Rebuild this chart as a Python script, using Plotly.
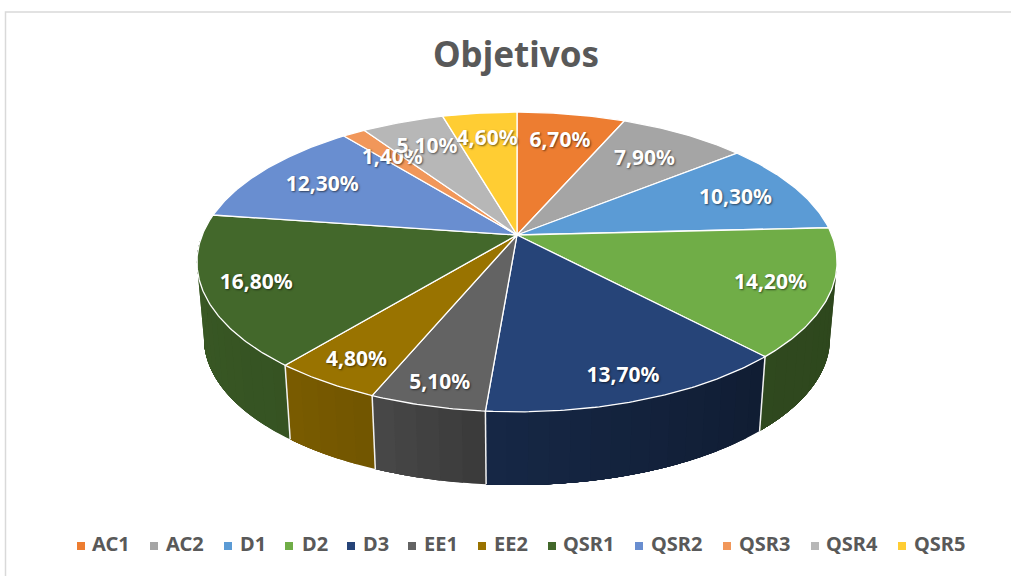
import numpy as np
import plotly.graph_objects as go

# ---- data ----
categories = ["AC1", "AC2", "D1", "D2", "D3", "EE1", "EE2", "QSR1", "QSR2", "QSR3", "QSR4", "QSR5"]
values = [6.7, 7.9, 10.3, 14.2, 13.7, 5.1, 4.8, 16.8, 12.3, 1.4, 5.1, 4.6]
labels = ["6,70%", "7,90%", "10,30%", "14,20%", "13,70%", "5,10%", "4,80%", "16,80%", "12,30%", "1,40%", "5,10%", "4,60%"]
colors = ["#ED7D31", "#A5A5A5", "#5B9BD5", "#70AD47", "#264478", "#636363", "#997300", "#43682B", "#698ED0", "#F1975A", "#B7B7B7", "#FFCD33"]

# ---- 3D pie look (projection, shading and label placement) ----
CX, CY, A, B, K = 517, 235, 314.8, 145, 0.18
DEPTH_SCALE, DEPTH_CY = 0.978, 312
label_radius = [0.76, 0.74, 0.78, 0.82, 0.87, 0.88, 0.86, 0.84, 0.76, 0.74, 0.76, 0.77]
LABEL_DY = 2
shade_angles = [100, 137, 185, 203, 220, 262]
shade_factor = [0.41, 0.42, 0.58, 0.74, 0.80, 0.85]
legend_marker_x = [81, 154, 228, 289, 351, 412, 482, 552, 639, 727, 815, 902]
legend_text_x = [92, 166, 240, 302, 363, 424, 494, 563, 651, 739, 826, 914]
LEGEND_Y = 546
TEXT_GREY = "#595959"
FONT = "Noto Sans"


def project(theta_deg, r=1.0):
    t = np.radians(theta_deg)
    X, Y = r * np.sin(t), r * np.cos(t)
    w = 1 + K * Y
    return CX + A * X / w, CY - B * Y / w


def lower(px, py):
    return CX + DEPTH_SCALE * (px - CX), DEPTH_CY + DEPTH_SCALE * (py - CY)


def shade(hex_color, f):
    r, g, b = (int(hex_color[i:i + 2], 16) for i in (1, 3, 5))
    return f"rgb({round(r * f)},{round(g * f)},{round(b * f)})"


total = sum(values)
edges = np.concatenate([[0], np.cumsum(values)]) / total * 360

fig = go.Figure()

# Side wall: overlapping bands, each painted from its start to the segment's end,
# so that the soft gradient has no seams
for i, col in enumerate(colors):
    a0, a1 = edges[i], edges[i + 1]
    lo, hi = max(a0, 95), min(a1, 268)
    if lo >= hi:
        continue
    n = max(1, int((hi - lo) / 3))
    steps = np.linspace(lo, hi, n + 1)
    for s0, s1 in zip(steps[:-1], steps[1:]):
        ts = np.linspace(s0, hi, max(4, int((hi - s0) * 1.5)))
        px, py = project(ts)
        bx, by = lower(px, py)
        c = shade(col, np.interp((s0 + s1) / 2, shade_angles, shade_factor))
        fig.add_trace(go.Scatter(
            x=np.concatenate([px, bx[::-1]]), y=np.concatenate([py, by[::-1]]),
            mode="none", fill="toself", fillcolor=c,
            hoverinfo="skip", showlegend=False))

# White vertical seams between the visible wall segments
for e in edges[1:-1]:
    if 100 < e < 262:
        px, py = project(e)
        bx, by = lower(px, py)
        fig.add_trace(go.Scatter(x=[px, bx], y=[py, by], mode="lines",
                                 line=dict(color="#F2F2F2", width=1.5),
                                 hoverinfo="skip", showlegend=False))

# Top face
for i, col in enumerate(colors):
    ts = np.linspace(edges[i], edges[i + 1], max(4, int(values[i] * 6)))
    px, py = project(ts)
    fig.add_trace(go.Scatter(
        x=np.concatenate([[CX], px, [CX]]), y=np.concatenate([[CY], py, [CY]]),
        mode="lines", fill="toself", fillcolor=col,
        line=dict(color="#FFFFFF", width=1.3), name=categories[i],
        text=labels[i], hoverinfo="name+text", showlegend=False))

# Data labels
mids = (edges[:-1] + edges[1:]) / 2
lx, ly = zip(*[project(m, r) for m, r in zip(mids, label_radius)])
fig.add_trace(go.Scatter(
    x=list(lx), y=[v + LABEL_DY for v in ly], mode="text", text=labels, textposition="middle center",
    textfont=dict(family=FONT, size=21, color="#FFFFFF", weight="bold",
                  shadow="1px 1px 2px rgba(0,0,0,0.55)"),
    hoverinfo="skip", showlegend=False))

# Legend row
fig.add_trace(go.Scatter(
    x=legend_marker_x, y=[LEGEND_Y] * len(categories), mode="markers",
    marker=dict(symbol="square", size=8, color=colors, line=dict(width=0)),
    hoverinfo="skip", showlegend=False))
fig.add_trace(go.Scatter(
    x=legend_text_x, y=[LEGEND_Y] * len(categories), mode="text", text=categories,
    textposition="middle right",
    textfont=dict(family=FONT, size=20, color=TEXT_GREY, weight="bold"),
    hoverinfo="skip", showlegend=False))

fig.update_layout(
    width=1011, height=576, margin=dict(l=0, r=0, t=0, b=0),
    paper_bgcolor="#FFFFFF", plot_bgcolor="#FFFFFF",
    xaxis=dict(range=[0, 1011], visible=False, fixedrange=True),
    yaxis=dict(range=[576, 0], visible=False, fixedrange=True),
    title=dict(text="<b>Objetivos</b>", x=516 / 1011, y=1 - 55 / 576, xanchor="center", yanchor="middle",
               font=dict(family=FONT, size=35, color=TEXT_GREY)),
    shapes=[dict(type="rect", xref="x", yref="y", x0=5.5, y0=12, x1=1030, y1=600,
                 line=dict(color="#D9D9D9", width=1.5), layer="below")],
    showlegend=False,
)

fig.write_html("out.html", config={"displayModeBar": False},
               post_script="document.body.style.margin='0';document.body.style.overflow='hidden';")
